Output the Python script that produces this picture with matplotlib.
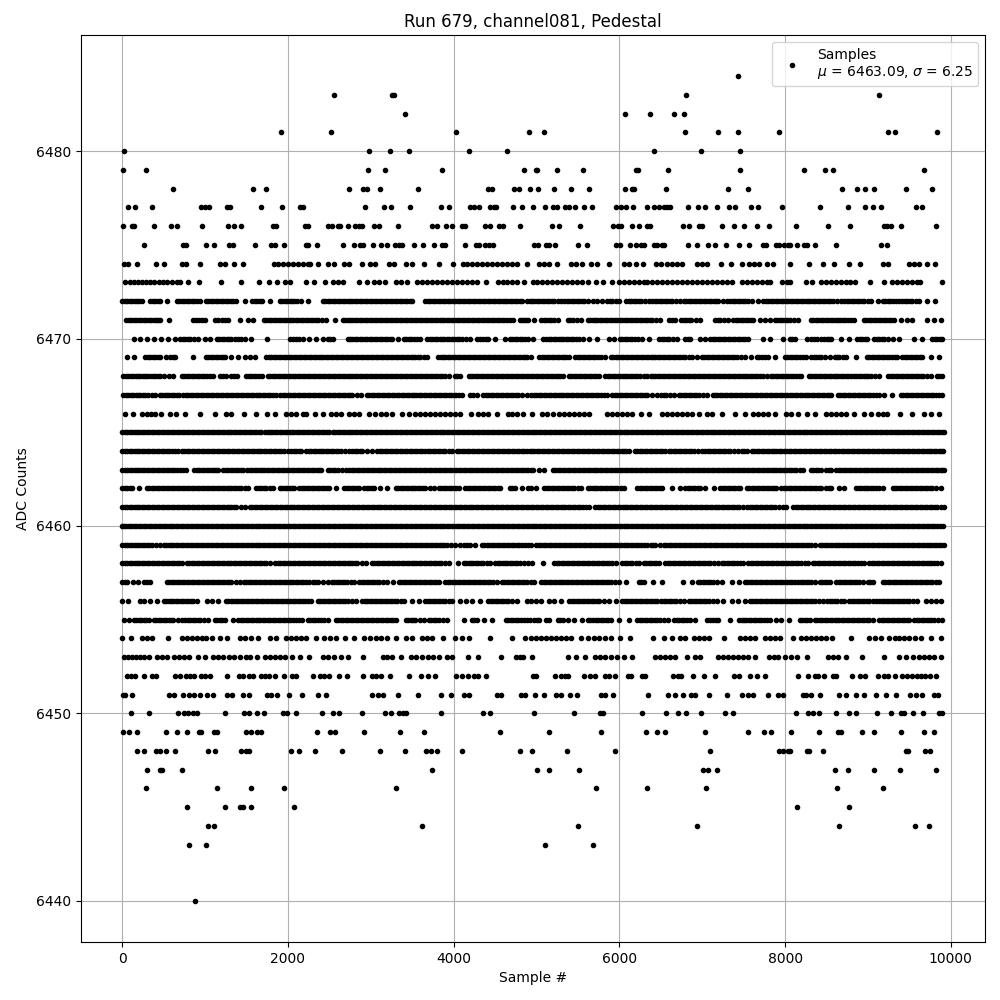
import matplotlib
matplotlib.use("Agg")
import matplotlib.pyplot as plt

title = "Run 679, channel081, Pedestal"
x_label = "Sample #"
y_label = "ADC Counts"
mu = 6463.09
sigma = 6.25

s6484 = [7434]
s6483 = [2553, 3256, 3284, 6807, 9132]
s6482 = [3409, 6072, 6373, 6663, 6783]
s6481 = [1914, 2517, 4024, 4908, 5096, 6795, 7193, 7434, 7928, 9241, 9325, 9831]
s6480 = [20, 2975, 3228, 3457, 4181, 4639, 6422, 6988, 7458]
s6479 = [8, 285, 2963, 3168, 3855, 4844, 4992, 5012, 5253, 5566, 6197, 6229, 6590, 7458, 8229, 8482, 8578, 9675]
s6478 = [611, 1576, 1733, 2734, 2902, 2959, 3107, 3566, 4410, 4458, 4723, 4784, 4916, 5024, 5217, 5422, 5639, 6072, 6157, 6181, 6566, 7313, 7554, 8687, 8867, 8964, 9072, 9458, 9771]
s6477 = [68, 153, 358, 949, 997, 1045, 1262, 1298, 1672, 1926, 2143, 2180, 2927, 3156, 3240, 3469, 3843, 3940, 4193, 4241, 4309, 4442, 4482, 4514, 4711, 4820, 4964, 5108, 5205, 5253, 5349, 5398, 5470, 5578, 5675, 5964, 6016, 6076, 6169, 6337, 6422, 6482, 6542, 6578, 6614, 6831, 6952, 7036, 7181, 7325, 7398, 7590, 7675, 7964, 8422, 8759, 8964, 9060, 9157, 9578, 9651]
s6476 = [8, 117, 141, 382, 595, 659, 961, 1274, 1347, 1431, 1817, 1857, 2203, 2239, 2480, 2529, 2601, 2625, 2730, 2806, 2854, 2894, 3035, 3095, 3325, 3735, 3795, 3903, 3976, 4097, 4133, 4382, 4434, 4543, 4591, 4796, 5193, 5277, 5530, 5928, 5988, 6024, 6157, 6241, 6337, 6369, 6771, 6843, 6964, 7000, 7241, 7386, 7506, 7663, 7807, 8133, 8518, 8783, 9193, 9229, 9277, 9398, 9819]
s6475 = [261, 732, 768, 1009, 1105, 1286, 1335, 1600, 1793, 1841, 1950, 2215, 2239, 2348, 2661, 2794, 2866, 2902, 3023, 3120, 3196, 3288, 3337, 3373, 3518, 3626, 3759, 3855, 3891, 4133, 4265, 4301, 4374, 4422, 4470, 4976, 5024, 5112, 5153, 5225, 5506, 5614, 5964, 6004, 6133, 6205, 6257, 6301, 6422, 6458, 6518, 6542, 6831, 6940, 7072, 7157, 7289, 7446, 7566, 7735, 7771, 7892, 7932, 7984, 8036, 8060, 8144, 8229, 8265, 8357, 8614, 9157, 9229]
s6474 = [28, 76, 177, 414, 510, 720, 768, 937, 1178, 1246, 1347, 1455, 1829, 1885, 1945, 2000, 2060, 2120, 2180, 2240, 2271, 2360, 2480, 2553, 2673, 2734, 2890, 2995, 3055, 3216, 3276, 3429, 3497, 3638, 3823, 3988, 4108, 4165, 4225, 4285, 4340, 4400, 4462, 4523, 4580, 4640, 4700, 4764, 4880, 5032, 5092, 5153, 5253, 5414, 5474, 5554, 5655, 5735, 5880, 6056, 6116, 6197, 6285, 6438, 6498, 6578, 6638, 6699, 6759, 6940, 7000, 7060, 7229, 7349, 7482, 7562, 7622, 7683, 7783, 7855, 8060, 8289, 8458, 8590, 8771, 8904, 9181, 9241, 9490, 9550, 9618, 9711, 9807]
s6473 = [40, 90, 140, 190, 240, 290, 340, 380, 440, 490, 540, 600, 660, 700, 790, 925, 1190, 1430, 1650, 1770, 1870, 1970, 2030, 2220, 2310, 2450, 2550, 2610, 2670, 2860, 2950, 3040, 3100, 3170, 3300, 3370, 3440, 3560, 3620, 3680, 3740, 3800, 3860, 3920, 3980, 4040, 4100, 4160, 4220, 4280, 4390, 4530, 4590, 4650, 4710, 4770, 4850, 4952, 5012, 5072, 5132, 5192, 5252, 5312, 5372, 5432, 5492, 5554, 5627, 5715, 5807, 5916, 5996, 6056, 6116, 6176, 6236, 6296, 6337, 6398, 6458, 6518, 6578, 6638, 6698, 6758, 6818, 6878, 6938, 6998, 7058, 7118, 7178, 7238, 7298, 7361, 7482, 7542, 7602, 7662, 7722, 7782, 7823, 7964, 8024, 8064, 8253, 8325, 8438, 8498, 8558, 8618, 8678, 8738, 8787, 8847, 9024, 9193, 9289, 9349, 9409, 9469, 9529, 9589, 9630, 9892]
s6472 = [0, 60, 120, 180, 240, 340, 400, 460, 540, 660, 720, 780, 840, 900, 940, 1010, 1070, 1130, 1190, 1250, 1310, 1380, 1484, 1570, 1630, 1690, 1780, 1900, 1960, 2020, 2080, 2160, 2240, 2420, 2480, 2540, 2600, 2660, 2720, 2780, 2840, 2900, 2960, 3020, 3080, 3140, 3200, 3260, 3320, 3380, 3440, 3500, 3660, 3720, 3780, 3840, 3900, 3960, 4020, 4080, 4140, 4200, 4260, 4320, 4380, 4440, 4500, 4560, 4620, 4680, 4740, 4800, 4880, 4916, 4976, 5036, 5096, 5156, 5216, 5296, 5336, 5396, 5456, 5516, 5576, 5676, 5736, 5796, 5856, 5916, 5996, 6084, 6144, 6204, 6264, 6356, 6396, 6456, 6516, 6576, 6636, 6736, 6776, 6836, 6896, 6956, 7016, 7076, 7136, 7196, 7296, 7336, 7396, 7456, 7516, 7596, 7676, 7736, 7796, 7856, 7916, 7976, 8036, 8096, 8156, 8216, 8276, 8336, 8396, 8456, 8516, 8576, 8676, 8716, 8776, 8836, 8896, 8956, 9036, 9116, 9176, 9236, 9296, 9376, 9416, 9476, 9536, 9616, 9716, 9804]
f6472 = [30, 90, 150, 210, 370, 430, 690, 750, 810, 870, 1040, 1100, 1160, 1220, 1280, 1340, 1600, 1660, 1930, 1990, 2050, 2110, 2450, 2510, 2570, 2630, 2690, 2750, 2810, 2870, 2930, 2990, 3050, 3110, 3170, 3230, 3290, 3350, 3410, 3470, 3690, 3750, 3810, 3870, 3930, 3990, 4050, 4110, 4170, 4230, 4290, 4350, 4410, 4470, 4530, 4590, 4650, 4710, 4770, 4830, 4946, 5006, 5066, 5126, 5186, 5256, 5366, 5426, 5486, 5546, 5626, 5886, 5956, 6114, 6174, 6234, 6310, 6426, 6486, 6546, 6606, 6686, 6806, 6866, 6926, 6986, 7046, 7106, 7166, 7246, 7366, 7426, 7486, 7556, 7766, 7826, 7886, 7946, 8006, 8066, 8126, 8186, 8246, 8306, 8366, 8426, 8486, 8546, 8626, 8746, 8806, 8866, 8926, 8996, 9206, 9266, 9336, 9446, 9506, 9576]
s6471 = [52, 112, 172, 232, 292, 352, 412, 460, 560, 860, 930, 1000, 1120, 1200, 1280, 1424, 1520, 1580, 1708, 1768, 1828, 1888, 1948, 2008, 2068, 2128, 2188, 2248, 2308, 2368, 2460, 2572, 2660, 2720, 2780, 2840, 2900, 2960, 3020, 3080, 3140, 3200, 3260, 3320, 3380, 3440, 3500, 3560, 3620, 3680, 3740, 3800, 3860, 3920, 3980, 4040, 4100, 4160, 4220, 4280, 4340, 4400, 4460, 4520, 4580, 4640, 4720, 4800, 4850, 4900, 4976, 5056, 5116, 5176, 5256, 5376, 5436, 5536, 5616, 5676, 5736, 5796, 5856, 5916, 5976, 6036, 6096, 6156, 6216, 6276, 6336, 6396, 6496, 6596, 6676, 6748, 6808, 6868, 6976, 7156, 7216, 7316, 7376, 7436, 7496, 7556, 7616, 7696, 7816, 7876, 7936, 7996, 8056, 8156, 8308, 8368, 8428, 8488, 8548, 8608, 8668, 8728, 8796, 8836, 8948, 9008, 9068, 9128, 9188, 9248, 9316, 9396, 9536, 9716, 9876]
f6471 = [82, 142, 202, 262, 322, 382, 436, 895, 965, 1160, 1240, 1738, 1798, 1858, 1918, 1978, 2038, 2098, 2158, 2218, 2278, 2338, 2414, 2690, 2750, 2810, 2870, 2930, 2990, 3050, 3110, 3170, 3230, 3290, 3350, 3410, 3470, 3530, 3590, 3650, 3710, 3770, 3830, 3890, 3950, 4010, 4070, 4130, 4190, 4250, 4310, 4370, 4430, 4490, 4550, 4610, 4680, 4825, 4875, 5086, 5146, 5216, 5406, 5486, 5646, 5706, 5766, 5826, 5886, 5946, 6006, 6066, 6126, 6186, 6246, 6306, 6366, 6446, 6636, 6778, 6838, 6922, 7186, 7266, 7406, 7466, 7526, 7586, 7756, 7906, 7966, 8026, 8106, 8338, 8398, 8458, 8518, 8578, 8638, 8698, 8762, 8978, 9038, 9098, 9158, 9218, 9282, 9466, 9796]
s6470 = [140, 220, 300, 380, 468, 548, 640, 700, 760, 820, 920, 1000, 1060, 1140, 1200, 1260, 1320, 1400, 1480, 1560, 1752, 2020, 2100, 2180, 2252, 2340, 2420, 2480, 2540, 2720, 2780, 2840, 2900, 2960, 3020, 3080, 3140, 3200, 3260, 3328, 3400, 3460, 3520, 3600, 3680, 3740, 3800, 3860, 3920, 3980, 4040, 4100, 4200, 4280, 4350, 4420, 4500, 4620, 4680, 4740, 4800, 4860, 4900, 4960, 5076, 5116, 5176, 5236, 5296, 5356, 5416, 5476, 5556, 5636, 5736, 5876, 5936, 6004, 6064, 6124, 6184, 6276, 6356, 6484, 6544, 6604, 6696, 6796, 6856, 6976, 7036, 7096, 7156, 7216, 7276, 7336, 7396, 7456, 7516, 7556, 7736, 7816, 7976, 8056, 8116, 8268, 8348, 8428, 8508, 8556, 8676, 8776, 8868, 8928, 8988, 9076, 9136, 9196, 9296, 9376, 9556, 9648, 9776, 9836, 9896]
f6470 = [730, 790, 870, 1170, 1230, 1290, 1360, 1440, 2060, 2140, 2510, 2750, 2810, 2870, 2930, 2990, 3050, 3110, 3170, 3230, 3430, 3490, 3560, 3710, 3770, 3830, 3890, 3950, 4010, 4070, 4150, 4315, 4385, 4710, 4770, 4830, 5146, 5206, 5266, 5326, 5386, 5446, 5516, 6034, 6094, 6154, 6230, 6514, 6574, 6650, 6826, 7126, 7186, 7246, 7306, 7366, 7426, 7486, 8086, 8308, 8388, 8468, 8532, 8898, 8958, 9106, 9166, 9246, 9806, 9866]
s6469 = [60, 140, 280, 340, 400, 460, 532, 580, 640, 852, 1012, 1072, 1132, 1192, 1240, 1312, 1400, 1488, 1544, 1600, 1740, 1800, 1860, 1920, 1980, 2040, 2100, 2160, 2220, 2280, 2340, 2400, 2460, 2520, 2580, 2640, 2700, 2760, 2820, 2880, 2940, 3000, 3060, 3120, 3180, 3240, 3300, 3360, 3420, 3480, 3540, 3600, 3680, 3812, 3872, 3932, 3992, 4052, 4112, 4172, 4232, 4292, 4352, 4412, 4472, 4532, 4592, 4652, 4712, 4772, 4832, 4880, 4936, 5036, 5096, 5156, 5216, 5276, 5336, 5388, 5468, 5528, 5588, 5648, 5708, 5776, 5828, 5896, 5956, 6016, 6076, 6136, 6196, 6256, 6316, 6376, 6436, 6496, 6556, 6616, 6676, 6736, 6796, 6876, 6936, 6996, 7056, 7116, 7176, 7236, 7296, 7356, 7416, 7516, 7588, 7656, 7716, 7796, 7876, 7996, 8056, 8116, 8176, 8256, 8316, 8376, 8436, 8536, 8596, 8656, 8736, 8856, 8988, 9048, 9108, 9168, 9228, 9288, 9356, 9416, 9476, 9536, 9596, 9656, 9756, 9856]
f6469 = [310, 370, 430, 610, 1042, 1102, 1162, 1216, 1770, 1830, 1890, 1950, 2010, 2070, 2130, 2190, 2250, 2310, 2370, 2430, 2490, 2550, 2610, 2670, 2730, 2790, 2850, 2910, 2970, 3030, 3090, 3150, 3210, 3270, 3330, 3390, 3450, 3510, 3570, 3640, 3842, 3902, 3962, 4022, 4082, 4142, 4202, 4262, 4322, 4382, 4442, 4502, 4562, 4622, 4682, 4742, 4802, 4856, 5066, 5126, 5186, 5246, 5306, 5362, 5498, 5558, 5618, 5678, 5742, 5926, 5986, 6046, 6106, 6166, 6226, 6286, 6346, 6406, 6466, 6526, 6586, 6646, 6706, 6766, 6836, 7026, 7086, 7146, 7206, 7266, 7326, 7386, 7466, 7686, 7756, 8026, 8086, 8146, 8216, 8346, 8406, 8486, 8626, 8696, 9018, 9078, 9138, 9198, 9258, 9322, 9446, 9506, 9566, 9626]
s6468 = [12, 72, 132, 192, 252, 300, 340, 400, 460, 560, 612, 720, 780, 840, 900, 960, 1020, 1100, 1180, 1252, 1320, 1388, 1500, 1560, 1620, 1692, 1760, 1820, 1880, 1940, 2000, 2060, 2120, 2180, 2240, 2300, 2360, 2420, 2480, 2540, 2600, 2660, 2720, 2780, 2840, 2900, 2960, 3020, 3080, 3140, 3200, 3260, 3320, 3380, 3440, 3500, 3560, 3620, 3680, 3740, 3800, 3860, 3940, 4012, 4072, 4180, 4240, 4300, 4360, 4420, 4480, 4540, 4600, 4660, 4720, 4780, 4840, 4900, 4960, 5020, 5080, 5140, 5200, 5260, 5316, 5388, 5448, 5508, 5568, 5628, 5688, 5756, 5828, 5888, 5948, 6008, 6068, 6128, 6188, 6248, 6336, 6376, 6436, 6496, 6556, 6616, 6676, 6736, 6796, 6856, 6916, 6976, 7036, 7096, 7156, 7216, 7276, 7336, 7396, 7456, 7516, 7576, 7636, 7696, 7776, 7828, 7888, 7948, 8008, 8068, 8128, 8196, 8284, 8344, 8404, 8464, 8524, 8584, 8644, 8704, 8756, 8796, 8856, 8916, 8976, 9036, 9136, 9244, 9304, 9364, 9424, 9484, 9544, 9604, 9664, 9756, 9828, 9896]
f6468 = [42, 102, 162, 222, 276, 370, 430, 510, 750, 810, 870, 930, 990, 1060, 1216, 1354, 1530, 1590, 1656, 1790, 1850, 1910, 1970, 2030, 2090, 2150, 2210, 2270, 2330, 2390, 2450, 2510, 2570, 2630, 2690, 2750, 2810, 2870, 2930, 2990, 3050, 3110, 3170, 3230, 3290, 3350, 3410, 3470, 3530, 3590, 3650, 3710, 3770, 3830, 3900, 4042, 4210, 4270, 4330, 4390, 4450, 4510, 4570, 4630, 4690, 4750, 4810, 4870, 4930, 4990, 5050, 5110, 5170, 5230, 5288, 5418, 5478, 5538, 5598, 5658, 5722, 5858, 5918, 5978, 6038, 6098, 6158, 6218, 6292, 6406, 6466, 6526, 6586, 6646, 6706, 6766, 6826, 6886, 6946, 7006, 7066, 7126, 7186, 7246, 7306, 7366, 7426, 7486, 7546, 7606, 7666, 7736, 7858, 7918, 7978, 8038, 8098, 8162, 8314, 8374, 8434, 8494, 8554, 8614, 8674, 8730, 8826, 8886, 8946, 9006, 9086, 9274, 9334, 9394, 9454, 9514, 9574, 9634, 9710, 9862]
s6467 = [12, 72, 132, 192, 252, 312, 400, 452, 512, 572, 632, 692, 740, 800, 860, 920, 980, 1040, 1100, 1160, 1220, 1280, 1340, 1400, 1460, 1520, 1580, 1640, 1700, 1760, 1820, 1900, 1940, 2000, 2060, 2120, 2180, 2240, 2300, 2360, 2420, 2480, 2540, 2600, 2660, 2720, 2780, 2880, 2952, 3012, 3072, 3132, 3192, 3252, 3312, 3372, 3432, 3492, 3552, 3612, 3672, 3732, 3792, 3852, 3912, 3972, 4032, 4100, 4200, 4280, 4360, 4420, 4480, 4540, 4600, 4660, 4720, 4780, 4880, 4936, 4996, 5056, 5116, 5176, 5236, 5296, 5356, 5416, 5476, 5536, 5596, 5656, 5716, 5776, 5856, 5916, 5976, 6036, 6096, 6156, 6216, 6276, 6336, 6456, 6508, 6568, 6656, 6716, 6776, 6836, 6896, 6956, 7056, 7124, 7184, 7244, 7304, 7364, 7424, 7484, 7544, 7604, 7664, 7724, 7784, 7844, 7904, 7964, 8024, 8084, 8144, 8204, 8264, 8324, 8384, 8444, 8504, 8556, 8636, 8696, 8756, 8816, 8876, 8936, 8996, 9056, 9136, 9188, 9288, 9396, 9456, 9516, 9576, 9636, 9696, 9756, 9816, 9896]
f6467 = [42, 102, 162, 222, 282, 356, 482, 542, 602, 662, 770, 830, 890, 950, 1010, 1070, 1130, 1190, 1250, 1310, 1370, 1430, 1490, 1550, 1610, 1670, 1730, 1790, 1860, 1970, 2030, 2090, 2150, 2210, 2270, 2330, 2390, 2450, 2510, 2570, 2630, 2690, 2750, 2830, 2982, 3042, 3102, 3162, 3222, 3282, 3342, 3402, 3462, 3522, 3582, 3642, 3702, 3762, 3822, 3882, 3942, 4002, 4066, 4240, 4390, 4450, 4510, 4570, 4630, 4690, 4750, 4830, 4966, 5026, 5086, 5146, 5206, 5266, 5326, 5386, 5446, 5506, 5566, 5626, 5686, 5746, 5816, 5946, 6006, 6066, 6126, 6186, 6246, 6306, 6396, 6538, 6612, 6746, 6806, 6866, 6926, 7006, 7154, 7214, 7274, 7334, 7394, 7454, 7514, 7574, 7634, 7694, 7754, 7814, 7874, 7934, 7994, 8054, 8114, 8174, 8234, 8294, 8354, 8414, 8474, 8530, 8666, 8726, 8786, 8846, 8906, 8966, 9026, 9096, 9426, 9486, 9546, 9606, 9666, 9726, 9786, 9856]
s6466 = [32, 128, 240, 300, 350, 400, 464, 580, 650, 760, 944, 1124, 1252, 1320, 1468, 1612, 1748, 1844, 1980, 2040, 2100, 2180, 2220, 2324, 2420, 2520, 2580, 2640, 2740, 2800, 2860, 2980, 3050, 3120, 3180, 3260, 3380, 3460, 3540, 3600, 3660, 3720, 3780, 3840, 3900, 3960, 4020, 4080, 4208, 4300, 4360, 4420, 4520, 4652, 4710, 4770, 4840, 4948, 5068, 5130, 5196, 5276, 5336, 5396, 5456, 5516, 5576, 5636, 5856, 5916, 5976, 6036, 6096, 6156, 6256, 6356, 6516, 6576, 6636, 6696, 6756, 6816, 6876, 6956, 7056, 7116, 7236, 7396, 7516, 7608, 7676, 7736, 7796, 7876, 8016, 8076, 8156, 8268, 8364, 8496, 8556, 8616, 8676, 8736, 8836, 8956, 9036, 9116, 9176, 9228, 9384, 9528, 9676, 9764, 9856]
s6465 = [0, 60, 120, 180, 240, 300, 360, 420, 480, 540, 600, 660, 720, 780, 840, 900, 960, 1020, 1080, 1140, 1200, 1260, 1320, 1380, 1440, 1500, 1560, 1620, 1680, 1760, 1780, 1840, 1900, 1960, 2020, 2080, 2140, 2200, 2260, 2320, 2380, 2440, 2500, 2540, 2600, 2660, 2720, 2780, 2840, 2900, 2960, 3020, 3080, 3140, 3200, 3260, 3320, 3380, 3440, 3500, 3560, 3620, 3680, 3740, 3800, 3860, 3920, 3980, 4040, 4100, 4160, 4220, 4280, 4340, 4400, 4460, 4520, 4580, 4640, 4700, 4760, 4820, 4880, 4940, 5000, 5060, 5120, 5180, 5240, 5300, 5360, 5420, 5480, 5540, 5600, 5660, 5720, 5780, 5840, 5900, 5960, 6020, 6080, 6140, 6200, 6260, 6320, 6380, 6440, 6500, 6560, 6620, 6680, 6740, 6800, 6860, 6920, 6980, 7040, 7100, 7160, 7220, 7280, 7340, 7400, 7460, 7520, 7580, 7640, 7700, 7760, 7820, 7880, 7940, 8000, 8060, 8120, 8180, 8240, 8300, 8360, 8420, 8480, 8540, 8600, 8660, 8720, 8780, 8840, 8900, 8960, 9020, 9080, 9140, 9200, 9260, 9320, 9380, 9440, 9500, 9560, 9620, 9680, 9740, 9800, 9860, 9916]
f6465 = [30, 90, 150, 210, 270, 330, 390, 450, 510, 570, 630, 690, 750, 810, 870, 930, 990, 1050, 1110, 1170, 1230, 1290, 1350, 1410, 1470, 1530, 1590, 1650, 1720, 1810, 1870, 1930, 1990, 2050, 2110, 2170, 2230, 2290, 2350, 2410, 2470, 2570, 2630, 2690, 2750, 2810, 2870, 2930, 2990, 3050, 3110, 3170, 3230, 3290, 3350, 3410, 3470, 3530, 3590, 3650, 3710, 3770, 3830, 3890, 3950, 4010, 4070, 4130, 4190, 4250, 4310, 4370, 4430, 4490, 4550, 4610, 4670, 4730, 4790, 4850, 4910, 4970, 5030, 5090, 5150, 5210, 5270, 5330, 5390, 5450, 5510, 5570, 5630, 5690, 5750, 5810, 5870, 5930, 5990, 6050, 6110, 6170, 6230, 6290, 6350, 6410, 6470, 6530, 6590, 6650, 6710, 6770, 6830, 6890, 6950, 7010, 7070, 7130, 7190, 7250, 7310, 7370, 7430, 7490, 7550, 7610, 7670, 7730, 7790, 7850, 7910, 7970, 8030, 8090, 8150, 8210, 8270, 8330, 8390, 8450, 8510, 8570, 8630, 8690, 8750, 8810, 8870, 8930, 8990, 9050, 9110, 9170, 9230, 9290, 9350, 9410, 9470, 9530, 9590, 9650, 9710, 9770, 9830, 9890]
s6464 = [0, 60, 120, 180, 240, 300, 360, 420, 480, 540, 600, 680, 720, 780, 840, 900, 960, 1020, 1080, 1140, 1172, 1232, 1292, 1352, 1412, 1472, 1532, 1592, 1652, 1712, 1772, 1832, 1892, 1952, 2000, 2040, 2100, 2160, 2220, 2280, 2340, 2400, 2460, 2520, 2580, 2640, 2740, 2780, 2840, 2900, 3020, 3080, 3140, 3200, 3260, 3320, 3380, 3440, 3500, 3560, 3620, 3660, 3720, 3780, 3840, 3900, 3980, 4040, 4100, 4160, 4220, 4280, 4340, 4400, 4460, 4520, 4580, 4640, 4700, 4760, 4820, 4880, 4916, 4976, 5036, 5096, 5156, 5216, 5276, 5336, 5396, 5456, 5516, 5576, 5636, 5696, 5756, 5816, 5876, 5936, 5996, 6056, 6116, 6188, 6248, 6308, 6368, 6428, 6488, 6548, 6596, 6656, 6716, 6776, 6836, 6896, 6996, 7036, 7096, 7156, 7216, 7276, 7336, 7436, 7476, 7536, 7596, 7656, 7716, 7776, 7836, 7896, 7956, 8016, 8076, 8136, 8196, 8256, 8316, 8376, 8436, 8496, 8556, 8616, 8656, 8716, 8776, 8836, 8896, 8956, 9016, 9076, 9136, 9196, 9256, 9316, 9376, 9436, 9496, 9556, 9616, 9676, 9736, 9796, 9856, 9908]
f6464 = [30, 90, 150, 210, 270, 330, 390, 450, 510, 570, 640, 750, 810, 870, 930, 990, 1050, 1110, 1202, 1262, 1322, 1382, 1442, 1502, 1562, 1622, 1682, 1742, 1802, 1862, 1922, 2070, 2130, 2250, 2310, 2370, 2430, 2490, 2550, 2610, 2690, 2810, 2870, 2960, 3110, 3170, 3230, 3290, 3350, 3410, 3470, 3530, 3590, 3690, 3750, 3810, 3870, 3940, 4070, 4130, 4190, 4250, 4310, 4370, 4430, 4490, 4550, 4610, 4670, 4730, 4790, 4850, 4946, 5006, 5066, 5126, 5186, 5246, 5306, 5366, 5426, 5486, 5546, 5606, 5666, 5726, 5786, 5846, 5906, 5966, 6026, 6086, 6218, 6278, 6338, 6398, 6458, 6518, 6626, 6686, 6746, 6806, 6866, 6946, 7066, 7126, 7186, 7246, 7306, 7386, 7506, 7626, 7686, 7746, 7806, 7866, 7926, 7986, 8046, 8106, 8166, 8226, 8286, 8346, 8406, 8466, 8526, 8586, 8686, 8746, 8806, 8866, 8926, 8986, 9046, 9106, 9166, 9226, 9286, 9346, 9406, 9466, 9526, 9586, 9646, 9706, 9766, 9826, 9886]
s6463 = [0, 60, 120, 180, 240, 300, 360, 420, 480, 540, 600, 660, 772, 868, 930, 990, 1050, 1110, 1160, 1220, 1280, 1340, 1400, 1460, 1508, 1568, 1628, 1688, 1748, 1808, 1868, 1928, 1988, 2048, 2108, 2168, 2228, 2288, 2348, 2400, 2480, 2540, 2600, 2700, 2740, 2800, 2860, 2920, 2980, 3040, 3100, 3160, 3220, 3280, 3340, 3400, 3460, 3520, 3580, 3640, 3700, 3760, 3820, 3880, 3940, 4000, 4060, 4120, 4180, 4240, 4300, 4360, 4420, 4480, 4540, 4600, 4660, 4720, 4780, 4840, 4900, 4960, 5096, 5196, 5256, 5316, 5376, 5436, 5496, 5556, 5616, 5676, 5736, 5796, 5856, 5916, 5976, 6036, 6096, 6156, 6216, 6276, 6336, 6396, 6456, 6516, 6576, 6636, 6696, 6756, 6816, 6876, 6936, 6996, 7056, 7116, 7176, 7236, 7296, 7356, 7416, 7476, 7536, 7596, 7656, 7716, 7776, 7836, 7896, 7956, 8016, 8076, 8136, 8216, 8308, 8368, 8436, 8496, 8556, 8616, 8676, 8736, 8796, 8856, 8916, 8976, 9036, 9096, 9156, 9216, 9276, 9336, 9396, 9456, 9516, 9576, 9636, 9696, 9756, 9816, 9876, 9916]
f6463 = [30, 90, 150, 210, 270, 330, 390, 450, 510, 570, 630, 700, 740, 900, 960, 1020, 1080, 1135, 1250, 1310, 1370, 1430, 1538, 1598, 1658, 1718, 1778, 1838, 1898, 1958, 2018, 2078, 2138, 2198, 2258, 2318, 2374, 2510, 2570, 2650, 2770, 2830, 2890, 2950, 3010, 3070, 3130, 3190, 3250, 3310, 3370, 3430, 3490, 3550, 3610, 3670, 3730, 3790, 3850, 3910, 3970, 4030, 4090, 4150, 4210, 4270, 4330, 4390, 4450, 4510, 4570, 4630, 4690, 4750, 4810, 4870, 4930, 5030, 5226, 5286, 5346, 5406, 5466, 5526, 5586, 5646, 5706, 5766, 5826, 5886, 5946, 6006, 6066, 6126, 6186, 6246, 6306, 6366, 6426, 6486, 6546, 6606, 6666, 6726, 6786, 6846, 6906, 6966, 7026, 7086, 7146, 7206, 7266, 7326, 7386, 7446, 7506, 7566, 7626, 7686, 7746, 7806, 7866, 7926, 7986, 8046, 8106, 8176, 8338, 8402, 8526, 8646, 8706, 8766, 8826, 8886, 8946, 9006, 9066, 9126, 9186, 9246, 9306, 9366, 9426, 9486, 9546, 9606, 9666, 9726, 9786, 9846, 9896]
s6462 = [0, 60, 120, 200, 300, 360, 420, 480, 540, 600, 660, 720, 780, 840, 900, 960, 1020, 1080, 1140, 1200, 1260, 1320, 1380, 1440, 1520, 1620, 1680, 1740, 1820, 1900, 1960, 2020, 2080, 2140, 2200, 2260, 2320, 2380, 2440, 2500, 2580, 2680, 2740, 2800, 2860, 2920, 2980, 3040, 3108, 3200, 3300, 3360, 3420, 3480, 3540, 3600, 3660, 3760, 3820, 3880, 3940, 4000, 4060, 4140, 4200, 4260, 4320, 4380, 4440, 4500, 4560, 4680, 4740, 4820, 4900, 4936, 4996, 5096, 5156, 5216, 5276, 5336, 5396, 5456, 5536, 5616, 5676, 5736, 5796, 5856, 5916, 5976, 6056, 6216, 6276, 6336, 6396, 6456, 6516, 6636, 6736, 6796, 6856, 6916, 6976, 7036, 7140, 7216, 7276, 7336, 7396, 7456, 7536, 7596, 7656, 7716, 7776, 7836, 7896, 7956, 8016, 8076, 8136, 8196, 8256, 8316, 8376, 8436, 8496, 8556, 8656, 8716, 8856, 8916, 8976, 9036, 9096, 9176, 9296, 9356, 9416, 9476, 9536, 9596, 9656, 9716, 9776, 9876]
f6462 = [30, 90, 330, 390, 450, 510, 570, 630, 690, 750, 810, 870, 930, 990, 1050, 1110, 1170, 1230, 1290, 1350, 1410, 1480, 1650, 1710, 1780, 1930, 1990, 2050, 2170, 2230, 2290, 2350, 2410, 2470, 2710, 2770, 2830, 2950, 3010, 3330, 3390, 3450, 3510, 3570, 3630, 3710, 3850, 3910, 3970, 4030, 4170, 4230, 4290, 4350, 4410, 4470, 4530, 4710, 5126, 5186, 5246, 5306, 5366, 5426, 5496, 5646, 5706, 5766, 5826, 5886, 5946, 6016, 6246, 6306, 6366, 6426, 6486, 6826, 6886, 6946, 7246, 7306, 7366, 7426, 7566, 7626, 7686, 7746, 7806, 7866, 7986, 8046, 8106, 8166, 8226, 8286, 8346, 8406, 8526, 8886, 8946, 9006, 9066, 9136, 9326, 9386, 9446, 9506, 9566, 9626, 9686, 9746, 9826]
s6461 = [0, 60, 120, 180, 240, 300, 360, 420, 480, 540, 600, 660, 720, 780, 840, 900, 960, 1020, 1080, 1140, 1200, 1260, 1320, 1380, 1480, 1540, 1600, 1660, 1720, 1780, 1840, 1900, 1960, 2020, 2080, 2140, 2200, 2260, 2320, 2380, 2440, 2500, 2560, 2620, 2680, 2740, 2800, 2860, 2920, 2980, 3040, 3100, 3160, 3220, 3280, 3340, 3400, 3460, 3520, 3580, 3640, 3700, 3760, 3820, 3880, 3940, 4000, 4060, 4120, 4180, 4240, 4300, 4360, 4420, 4480, 4540, 4600, 4660, 4720, 4780, 4840, 4900, 4960, 5020, 5080, 5140, 5200, 5260, 5320, 5380, 5440, 5500, 5560, 5636, 5708, 5768, 5828, 5888, 5948, 6008, 6068, 6128, 6188, 6248, 6308, 6368, 6428, 6488, 6548, 6608, 6668, 6728, 6788, 6848, 6908, 6968, 7028, 7088, 7148, 7208, 7268, 7328, 7388, 7448, 7536, 7576, 7636, 7696, 7756, 7816, 7876, 7976, 8016, 8096, 8156, 8216, 8276, 8336, 8396, 8456, 8516, 8576, 8636, 8696, 8756, 8816, 8876, 8936, 8996, 9056, 9116, 9176, 9236, 9296, 9356, 9416, 9476, 9536, 9596, 9656, 9716, 9776, 9836, 9916]
f6461 = [30, 90, 150, 210, 270, 330, 390, 450, 510, 570, 630, 690, 750, 810, 870, 930, 990, 1050, 1110, 1170, 1230, 1290, 1350, 1430, 1570, 1630, 1690, 1750, 1810, 1870, 1930, 1990, 2050, 2110, 2170, 2230, 2290, 2350, 2410, 2470, 2530, 2590, 2650, 2710, 2770, 2830, 2890, 2950, 3010, 3070, 3130, 3190, 3250, 3310, 3370, 3430, 3490, 3550, 3610, 3670, 3730, 3790, 3850, 3910, 3970, 4030, 4090, 4150, 4210, 4270, 4330, 4390, 4450, 4510, 4570, 4630, 4690, 4750, 4810, 4870, 4930, 4990, 5050, 5110, 5170, 5230, 5290, 5350, 5410, 5470, 5530, 5600, 5738, 5798, 5858, 5918, 5978, 6038, 6098, 6158, 6218, 6278, 6338, 6398, 6458, 6518, 6578, 6638, 6698, 6758, 6818, 6878, 6938, 6998, 7058, 7118, 7178, 7238, 7298, 7358, 7418, 7490, 7606, 7666, 7726, 7786, 7846, 7926, 8126, 8186, 8246, 8306, 8366, 8426, 8486, 8546, 8606, 8666, 8726, 8786, 8846, 8906, 8966, 9026, 9086, 9146, 9206, 9266, 9326, 9386, 9446, 9506, 9566, 9626, 9686, 9746, 9806, 9876]
s6460 = [0, 50, 110, 170, 230, 290, 350, 410, 470, 530, 590, 650, 710, 770, 830, 890, 950, 1010, 1070, 1130, 1190, 1250, 1310, 1370, 1430, 1490, 1550, 1610, 1670, 1730, 1790, 1850, 1910, 1970, 2030, 2090, 2150, 2210, 2270, 2330, 2390, 2450, 2510, 2570, 2630, 2690, 2750, 2810, 2870, 2930, 2990, 3050, 3110, 3170, 3230, 3290, 3350, 3410, 3470, 3530, 3590, 3650, 3710, 3770, 3830, 3890, 3950, 4010, 4070, 4130, 4190, 4250, 4310, 4370, 4430, 4490, 4550, 4610, 4670, 4730, 4790, 4850, 4910, 4970, 5030, 5090, 5150, 5210, 5270, 5330, 5390, 5450, 5510, 5570, 5630, 5690, 5750, 5810, 5870, 5930, 5990, 6050, 6110, 6170, 6230, 6290, 6350, 6410, 6470, 6530, 6590, 6650, 6710, 6770, 6830, 6890, 6950, 7010, 7070, 7130, 7190, 7250, 7310, 7370, 7430, 7490, 7550, 7610, 7670, 7730, 7790, 7850, 7910, 7970, 8030, 8090, 8150, 8210, 8270, 8330, 8390, 8450, 8510, 8570, 8630, 8690, 8750, 8810, 8870, 8930, 8990, 9050, 9110, 9170, 9230, 9290, 9350, 9410, 9470, 9530, 9590, 9650, 9710, 9770, 9830, 9908]
f6460 = [25, 80, 140, 200, 260, 320, 380, 440, 500, 560, 620, 680, 740, 800, 860, 920, 980, 1040, 1100, 1160, 1220, 1280, 1340, 1400, 1460, 1520, 1580, 1640, 1700, 1760, 1820, 1880, 1940, 2000, 2060, 2120, 2180, 2240, 2300, 2360, 2420, 2480, 2540, 2600, 2660, 2720, 2780, 2840, 2900, 2960, 3020, 3080, 3140, 3200, 3260, 3320, 3380, 3440, 3500, 3560, 3620, 3680, 3740, 3800, 3860, 3920, 3980, 4040, 4100, 4160, 4220, 4280, 4340, 4400, 4460, 4520, 4580, 4640, 4700, 4760, 4820, 4880, 4940, 5000, 5060, 5120, 5180, 5240, 5300, 5360, 5420, 5480, 5540, 5600, 5660, 5720, 5780, 5840, 5900, 5960, 6020, 6080, 6140, 6200, 6260, 6320, 6380, 6440, 6500, 6560, 6620, 6680, 6740, 6800, 6860, 6920, 6980, 7040, 7100, 7160, 7220, 7280, 7340, 7400, 7460, 7520, 7580, 7640, 7700, 7760, 7820, 7880, 7940, 8000, 8060, 8120, 8180, 8240, 8300, 8360, 8420, 8480, 8540, 8600, 8660, 8720, 8780, 8840, 8900, 8960, 9020, 9080, 9140, 9200, 9260, 9320, 9380, 9440, 9500, 9560, 9620, 9680, 9740, 9800, 9870]
s6459 = [0, 60, 120, 180, 240, 300, 360, 460, 500, 560, 620, 680, 740, 800, 860, 920, 980, 1040, 1100, 1160, 1220, 1280, 1340, 1400, 1460, 1520, 1580, 1640, 1700, 1760, 1820, 1880, 1940, 2000, 2060, 2120, 2180, 2240, 2300, 2360, 2420, 2480, 2540, 2600, 2660, 2720, 2780, 2840, 2900, 2960, 3020, 3080, 3140, 3200, 3260, 3320, 3380, 3440, 3500, 3560, 3620, 3680, 3740, 3800, 3860, 3920, 4020, 4080, 4160, 4260, 4340, 4400, 4460, 4520, 4580, 4640, 4700, 4760, 4820, 4900, 4936, 5000, 5060, 5120, 5180, 5240, 5300, 5360, 5420, 5480, 5540, 5600, 5660, 5720, 5780, 5840, 5900, 5960, 6020, 6080, 6140, 6200, 6260, 6336, 6376, 6436, 6496, 6536, 6596, 6656, 6716, 6776, 6836, 6896, 6956, 7016, 7076, 7136, 7196, 7256, 7316, 7376, 7436, 7496, 7556, 7616, 7676, 7736, 7796, 7856, 7916, 7976, 8036, 8096, 8156, 8216, 8276, 8356, 8416, 8476, 8536, 8596, 8656, 8716, 8776, 8836, 8896, 8956, 9016, 9076, 9136, 9196, 9256, 9316, 9376, 9436, 9496, 9556, 9616, 9676, 9736, 9796, 9856, 9916]
f6459 = [30, 90, 150, 210, 270, 330, 410, 530, 590, 650, 710, 770, 830, 890, 950, 1010, 1070, 1130, 1190, 1250, 1310, 1370, 1430, 1490, 1550, 1610, 1670, 1730, 1790, 1850, 1910, 1970, 2030, 2090, 2150, 2210, 2270, 2330, 2390, 2450, 2510, 2570, 2630, 2690, 2750, 2810, 2870, 2930, 2990, 3050, 3110, 3170, 3230, 3290, 3350, 3410, 3470, 3530, 3590, 3650, 3710, 3770, 3830, 3890, 3970, 4120, 4200, 4370, 4430, 4490, 4550, 4610, 4670, 4730, 4790, 4860, 5030, 5090, 5150, 5210, 5270, 5330, 5390, 5450, 5510, 5570, 5630, 5690, 5750, 5810, 5870, 5930, 5990, 6050, 6110, 6170, 6230, 6296, 6406, 6566, 6626, 6686, 6746, 6806, 6866, 6926, 6986, 7046, 7106, 7166, 7226, 7286, 7346, 7406, 7466, 7526, 7586, 7646, 7706, 7766, 7826, 7886, 7946, 8006, 8066, 8126, 8186, 8246, 8316, 8446, 8506, 8566, 8626, 8686, 8746, 8806, 8866, 8926, 8986, 9046, 9106, 9166, 9226, 9286, 9346, 9406, 9466, 9526, 9586, 9646, 9706, 9766, 9826, 9886]
s6458 = [0, 60, 120, 180, 240, 300, 360, 420, 480, 540, 600, 660, 720, 780, 840, 900, 960, 1020, 1080, 1140, 1200, 1260, 1320, 1380, 1440, 1500, 1560, 1620, 1680, 1740, 1840, 1880, 1940, 2000, 2060, 2120, 2180, 2240, 2300, 2360, 2420, 2480, 2540, 2600, 2660, 2720, 2780, 2840, 2940, 3012, 3072, 3132, 3192, 3252, 3312, 3372, 3432, 3492, 3552, 3612, 3672, 3732, 3792, 3852, 3940, 4052, 4120, 4180, 4240, 4300, 4360, 4440, 4500, 4560, 4620, 4680, 4740, 4800, 4900, 4950, 5076, 5216, 5276, 5336, 5396, 5456, 5516, 5576, 5636, 5696, 5756, 5816, 5876, 5956, 6036, 6096, 6156, 6236, 6296, 6356, 6416, 6476, 6556, 6616, 6676, 6736, 6796, 6856, 6916, 6976, 7036, 7096, 7196, 7236, 7296, 7356, 7416, 7496, 7556, 7616, 7676, 7736, 7796, 7856, 7916, 7976, 8036, 8096, 8156, 8196, 8276, 8336, 8396, 8456, 8516, 8576, 8636, 8696, 8756, 8816, 8876, 8956, 9016, 9076, 9136, 9196, 9256, 9316, 9376, 9436, 9496, 9556, 9616, 9676, 9736, 9796, 9876]
f6458 = [30, 90, 150, 210, 270, 330, 390, 450, 510, 570, 630, 690, 810, 870, 930, 990, 1050, 1110, 1170, 1230, 1290, 1350, 1410, 1470, 1530, 1590, 1650, 1710, 1790, 1910, 1970, 2030, 2090, 2150, 2210, 2270, 2330, 2390, 2450, 2510, 2570, 2630, 2690, 2750, 2810, 2890, 3042, 3102, 3162, 3222, 3282, 3342, 3402, 3462, 3522, 3582, 3642, 3702, 3762, 3822, 3896, 4150, 4210, 4270, 4330, 4400, 4530, 4590, 4650, 4710, 4770, 4850, 5246, 5306, 5366, 5426, 5486, 5546, 5606, 5666, 5726, 5786, 5846, 5916, 6066, 6126, 6196, 6326, 6386, 6446, 6586, 6646, 6706, 6766, 6826, 6886, 6946, 7006, 7066, 7146, 7266, 7326, 7386, 7456, 7586, 7646, 7706, 7766, 7826, 7886, 7946, 8006, 8066, 8126, 8236, 8366, 8426, 8486, 8546, 8606, 8666, 8726, 8786, 8846, 8916, 9046, 9106, 9166, 9226, 9286, 9346, 9406, 9466, 9526, 9586, 9646, 9706, 9766, 9836]
s6457 = [0, 60, 128, 188, 260, 332, 540, 600, 660, 720, 780, 840, 900, 960, 1020, 1080, 1140, 1200, 1260, 1320, 1420, 1468, 1528, 1588, 1648, 1708, 1768, 1828, 1888, 1948, 2008, 2068, 2128, 2188, 2260, 2300, 2360, 2480, 2532, 2592, 2652, 2712, 2800, 2860, 2920, 2980, 3040, 3100, 3200, 3272, 3340, 3400, 3460, 3520, 3580, 3640, 3700, 3760, 3820, 3900, 3960, 4020, 4080, 4140, 4200, 4260, 4320, 4380, 4440, 4520, 4580, 4640, 4700, 4760, 4820, 4880, 4936, 4976, 5056, 5116, 5176, 5236, 5296, 5356, 5416, 5476, 5536, 5596, 5656, 5716, 5776, 5836, 5896, 5996, 6084, 6236, 6296, 6404, 6516, 6768, 6876, 6948, 7008, 7068, 7128, 7236, 7356, 7444, 7516, 7576, 7636, 7696, 7756, 7816, 7876, 7936, 7996, 8056, 8116, 8156, 8216, 8276, 8356, 8416, 8476, 8536, 8616, 8676, 8736, 8796, 8856, 8936, 8996, 9056, 9176, 9236, 9296, 9356, 9416, 9476, 9536, 9596, 9656, 9716, 9776, 9856]
f6457 = [30, 296, 570, 630, 690, 750, 810, 870, 930, 990, 1050, 1110, 1170, 1230, 1290, 1370, 1498, 1558, 1618, 1678, 1738, 1798, 1858, 1918, 1978, 2038, 2098, 2158, 2224, 2330, 2420, 2562, 2622, 2682, 2756, 2890, 2950, 3010, 3070, 3150, 3370, 3430, 3490, 3550, 3610, 3670, 3730, 3790, 3930, 3990, 4050, 4110, 4170, 4230, 4290, 4350, 4410, 4480, 4610, 4670, 4730, 4790, 4850, 5086, 5146, 5206, 5266, 5326, 5386, 5446, 5506, 5566, 5626, 5686, 5746, 5806, 5866, 5946, 6266, 6978, 7038, 7098, 7182, 7546, 7606, 7666, 7726, 7786, 7846, 7906, 7966, 8026, 8086, 8186, 8246, 8316, 8446, 8506, 8646, 8706, 8766, 8826, 8896, 9026, 9206, 9266, 9326, 9386, 9446, 9506, 9566, 9626, 9686, 9746, 9816]
s6456 = [0, 72, 212, 270, 340, 420, 500, 560, 620, 680, 740, 800, 860, 908, 1020, 1090, 1160, 1252, 1312, 1372, 1432, 1492, 1552, 1612, 1672, 1732, 1792, 1852, 1912, 1972, 2032, 2092, 2152, 2212, 2280, 2360, 2420, 2480, 2540, 2600, 2660, 2720, 2820, 2900, 2960, 3020, 3080, 3140, 3200, 3260, 3320, 3400, 3500, 3580, 3660, 3720, 3780, 3840, 3900, 3980, 4080, 4150, 4220, 4316, 4420, 4480, 4540, 4600, 4660, 4760, 4880, 4936, 4996, 5056, 5156, 5216, 5296, 5396, 5456, 5516, 5576, 5636, 5696, 5756, 5876, 5964, 6036, 6096, 6156, 6216, 6276, 6336, 6396, 6456, 6508, 6568, 6628, 6688, 6776, 6836, 6896, 6956, 7016, 7076, 7176, 7252, 7356, 7436, 7516, 7576, 7636, 7696, 7756, 7816, 7876, 7936, 7996, 8056, 8116, 8176, 8236, 8296, 8356, 8456, 8508, 8568, 8628, 8716, 8776, 8836, 8896, 8956, 9016, 9096, 9136, 9196, 9256, 9316, 9376, 9436, 9496, 9596, 9696, 9756, 9816, 9876]
f6456 = [530, 590, 650, 710, 770, 830, 1282, 1342, 1402, 1462, 1522, 1582, 1642, 1702, 1762, 1822, 1882, 1942, 2002, 2062, 2122, 2182, 2246, 2390, 2450, 2510, 2570, 2630, 2690, 2770, 2930, 2990, 3050, 3110, 3170, 3230, 3290, 3360, 3690, 3750, 3810, 3870, 3940, 4450, 4510, 4570, 4630, 4710, 5426, 5486, 5546, 5606, 5666, 5726, 5816, 6066, 6126, 6186, 6246, 6306, 6366, 6426, 6538, 6598, 6658, 6732, 6866, 6926, 6986, 7046, 7126, 7606, 7666, 7726, 7786, 7846, 7906, 7966, 8026, 8086, 8146, 8206, 8266, 8326, 8406, 8538, 8598, 8672, 8806, 8866, 8926, 8986, 9056, 9166, 9226, 9286, 9346, 9406, 9466, 9546]
s6455 = [20, 80, 140, 200, 260, 320, 380, 440, 500, 560, 620, 720, 760, 820, 880, 940, 1040, 1120, 1180, 1240, 1340, 1400, 1460, 1520, 1580, 1640, 1700, 1760, 1820, 1880, 1940, 2000, 2060, 2140, 2168, 2240, 2300, 2360, 2440, 2480, 2580, 2640, 2700, 2760, 2820, 2880, 2940, 3000, 3060, 3120, 3180, 3240, 3300, 3420, 3480, 3540, 3640, 3700, 3760, 3820, 3920, 4120, 4220, 4280, 4372, 4468, 4628, 4690, 4750, 4810, 4880, 4916, 4976, 5036, 5116, 5156, 5256, 5316, 5386, 5456, 5548, 5616, 5676, 5716, 5776, 5836, 5896, 6000, 6116, 6216, 6276, 6336, 6396, 6456, 6536, 6588, 6660, 6720, 6780, 6856, 6916, 7056, 7126, 7196, 7336, 7444, 7504, 7564, 7624, 7684, 7744, 7816, 7896, 7956, 8052, 8176, 8236, 8296, 8356, 8416, 8476, 8536, 8596, 8656, 8716, 8776, 8836, 8896, 8956, 9016, 9056, 9136, 9196, 9256, 9316, 9376, 9436, 9496, 9556, 9616, 9676, 9736, 9796, 9896]
f6455 = [170, 230, 290, 410, 470, 530, 590, 670, 790, 850, 910, 990, 1150, 1210, 1430, 1490, 1550, 1610, 1670, 1730, 1790, 1850, 1910, 1970, 2030, 2100, 2270, 2330, 2400, 2610, 2670, 2730, 2790, 2850, 2910, 2970, 3030, 3090, 3150, 3210, 3270, 3450, 3510, 3590, 3730, 3790, 3870, 4250, 4660, 4720, 4780, 4846, 5006, 5286, 5646, 5746, 5806, 5866, 6246, 6306, 6366, 6426, 6496, 6690, 6750, 6818, 7091, 7161, 7474, 7534, 7594, 7654, 7714, 7780, 8206, 8266, 8386, 8446, 8506, 8566, 8626, 8686, 8746, 8806, 8866, 8926, 8986, 9166, 9226, 9286, 9346, 9406, 9466, 9586, 9646, 9706, 9766, 9846]
s6454 = [0, 108, 240, 300, 360, 552, 720, 780, 840, 900, 960, 1012, 1080, 1180, 1260, 1420, 1480, 1560, 1640, 1780, 1860, 1972, 2040, 2100, 2160, 2220, 2340, 2440, 2510, 2580, 2692, 2800, 2920, 2990, 3060, 3130, 3200, 3308, 3420, 3500, 3620, 3680, 3740, 3872, 4012, 4100, 4188, 4444, 4700, 4860, 4936, 4996, 5056, 5116, 5176, 5236, 5296, 5356, 5416, 5536, 5616, 5696, 5760, 5830, 5896, 6012, 6132, 6408, 6536, 6636, 6736, 6796, 6896, 6964, 7016, 7080, 7260, 7456, 7520, 7580, 7636, 7756, 7820, 7880, 7936, 8100, 8196, 8256, 8316, 8376, 8436, 8496, 8568, 8796, 9016, 9090, 9156, 9256, 9320, 9380, 9440, 9500, 9570, 9636, 9756, 9876]
s6453 = [20, 70, 120, 170, 220, 270, 320, 420, 480, 540, 628, 690, 750, 810, 920, 1000, 1100, 1160, 1220, 1290, 1350, 1420, 1500, 1540, 1628, 1728, 1790, 1850, 1910, 1960, 2048, 2144, 2252, 2428, 2480, 2560, 2640, 2720, 2912, 3152, 3200, 3260, 3360, 3480, 3550, 3620, 3690, 3750, 3820, 3920, 3980, 4172, 4292, 4568, 4752, 4800, 4840, 4948, 5376, 5476, 5584, 5708, 5770, 5830, 5896, 5976, 6056, 6156, 6428, 6490, 6550, 6610, 6676, 6816, 6908, 6976, 7188, 7250, 7310, 7370, 7430, 7490, 7550, 7636, 7804, 7860, 7916, 7996, 8076, 8148, 8268, 8516, 8580, 8640, 8736, 8924, 9196, 9376, 9456, 9540, 9616, 9680, 9740, 9800, 9876]
s6452 = [60, 109, 161, 269, 362, 414, 639, 695, 768, 816, 864, 949, 997, 1065, 1262, 1407, 1455, 1528, 1576, 1672, 1721, 1769, 1841, 1950, 2046, 2102, 2299, 2384, 2432, 2492, 2621, 2709, 2902, 3011, 3059, 3120, 3228, 3457, 3602, 3686, 3775, 4024, 4097, 4169, 4241, 4289, 4386, 4964, 5000, 5229, 5301, 5349, 5386, 5578, 5651, 5711, 5831, 5880, 5952, 6108, 6145, 6277, 6313, 6651, 6711, 6747, 6892, 7024, 7157, 7386, 7446, 7578, 7663, 7755, 8157, 8277, 8361, 8398, 8470, 8578, 8614, 8807, 8904, 8964, 9120, 9193, 9241, 9325, 9410, 9470, 9530, 9590, 9638, 9687, 9751, 9819]
s6451 = [8, 32, 117, 563, 623, 732, 804, 864, 937, 1021, 1093, 1262, 1323, 1455, 1528, 1745, 1793, 1865, 2018, 2167, 2360, 2456, 3011, 3083, 3144, 3325, 3566, 3843, 3964, 4121, 4181, 4519, 4567, 4808, 4856, 4988, 5096, 5241, 5301, 5410, 5494, 5783, 5831, 5928, 6349, 6590, 6675, 6771, 6867, 6916, 7084, 7301, 7482, 7554, 7614, 7795, 7916, 7976, 8217, 8253, 8313, 8422, 8651, 8735, 8855, 8952, 9096, 9217, 9337, 9506, 9578, 9651, 9799, 9843]
s6450 = [105, 322, 671, 744, 792, 852, 900, 1238, 1467, 1528, 1624, 1709, 1938, 1986, 2094, 2408, 2541, 2613, 2890, 3168, 3240, 3337, 3385, 3421, 3843, 4350, 4434, 4976, 5458, 5771, 5807, 6277, 6566, 6711, 6807, 6988, 7277, 7373, 8133, 8277, 8337, 8410, 8614, 8771, 8855, 9108, 9277, 9398, 9434, 9542, 9663, 9855, 9892]
s6449 = [8, 80, 177, 527, 659, 788, 925, 949, 1105, 1142, 1491, 1552, 1624, 1672, 2348, 2504, 2565, 2915, 3349, 3638, 4555, 5157, 5783, 6325, 6458, 6554, 7036, 7554, 7747, 7831, 8072, 8410, 8639, 8675, 8928, 9072, 9398, 9675, 9795]
s6448 = [177, 261, 406, 454, 527, 635, 1033, 1118, 1431, 1491, 1528, 2034, 2131, 2324, 2649, 3107, 3409, 3662, 3723, 3795, 4097, 4796, 4940, 5373, 5952, 7096, 7928, 7976, 8036, 8060, 8265, 8289, 8458, 9458, 9482, 9687, 9747]
s6447 = [297, 454, 478, 720, 3735, 5012, 5157, 5518, 7012, 7072, 7181, 8602, 8759, 9072, 9386, 9819]
s6446 = [285, 1142, 1552, 1950, 3300, 5723, 6337, 7048, 8627, 9181]
s6445 = [780, 1238, 1419, 1455, 1552, 2070, 8145, 8771]
s6444 = [1033, 1105, 3614, 5506, 6940, 8651, 9566, 9735]
s6443 = [804, 1009, 5108, 5687]
s6440 = [876]

levels = [6484, 6483, 6482, 6481, 6480, 6479, 6478, 6477, 6476, 6475, 6474, 6473, 6472, 6471, 6470, 6469,
          6468, 6467, 6466, 6465, 6464, 6463, 6462, 6461, 6460, 6459, 6458, 6457, 6456, 6455, 6454, 6453,
          6452, 6451, 6450, 6449, 6448, 6447, 6446, 6445, 6444, 6443, 6440,
          6472, 6471, 6470, 6469, 6468, 6467, 6465, 6464, 6463, 6462, 6461, 6460, 6459, 6458, 6457, 6456, 6455]
samples = [s6484, s6483, s6482, s6481, s6480, s6479, s6478, s6477, s6476, s6475, s6474, s6473, s6472, s6471, s6470, s6469,
           s6468, s6467, s6466, s6465, s6464, s6463, s6462, s6461, s6460, s6459, s6458, s6457, s6456, s6455, s6454, s6453,
           s6452, s6451, s6450, s6449, s6448, s6447, s6446, s6445, s6444, s6443, s6440,
           f6472, f6471, f6470, f6469, f6468, f6467, f6465, f6464, f6463, f6462, f6461, f6460, f6459, f6458, f6457, f6456, f6455]

xs = []
ys = []
for level, row in zip(levels, samples):
    xs.extend(row)
    ys.extend([level] * len(row))

fig, ax = plt.subplots(figsize=(10, 10), dpi=100)
ax.plot(xs, ys, "k.", label=f"Samples\n$\\mu$ = {mu:.2f}, $\\sigma$ = {sigma:.2f}")
ax.set_title(title)
ax.set_xlabel(x_label)
ax.set_ylabel(y_label)
ax.grid(True)
ax.legend(loc="upper right")
fig.subplots_adjust(left=0.081, right=0.985, top=0.965, bottom=0.058)
fig.savefig("out.png")
